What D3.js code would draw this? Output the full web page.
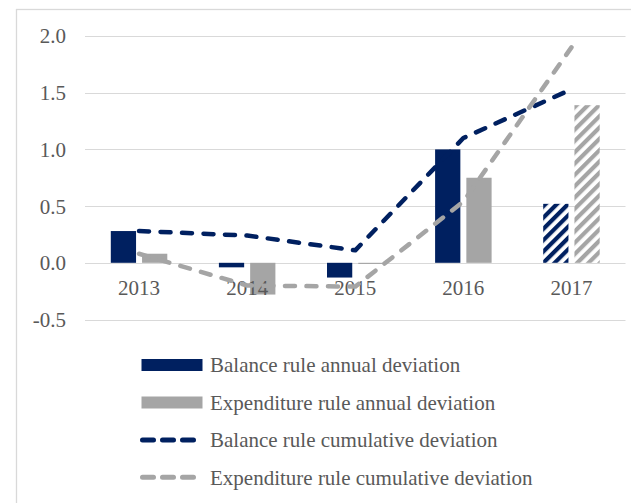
<!DOCTYPE html>
<html>
<head>
<meta charset="utf-8">
<script src="https://cdn.jsdelivr.net/npm/d3@7"></script>
<style>
  html, body { margin: 0; padding: 0; background: #ffffff; }
  svg { display: block; }
  text { font-family: "Liberation Serif", "Times New Roman", serif; }
</style>
</head>
<body>
<svg id="chart" width="631" height="503"></svg>
<script>
// Fiscal rule deviations, % of GDP
const years = ["2013", "2014", "2015", "2016", "2017"];
const projectedYears = ["2017"];
const balanceAnnual = [0.28, -0.04, -0.13, 1.00, 0.52];
const expenditureAnnual = [0.08, -0.28, -0.01, 0.75, 1.39];
const balanceCumulative = [0.28, 0.24, 0.11, 1.10, 1.53];
const expenditureCumulative = [0.08, -0.20, -0.21, 0.54, 1.90];
const yTicks = [-0.5, 0, 0.5, 1.0, 1.5, 2.0];

const seriesNames = [
  "Balance rule annual deviation",
  "Expenditure rule annual deviation",
  "Balance rule cumulative deviation",
  "Expenditure rule cumulative deviation"
];

const NAVY = "#002060";
const GREY = "#a5a5a5";
const GRID = "#d9d9d9";
const TEXT = "#595959";

const svg = d3.select("#chart");

// outer chart frame
svg.append("rect")
  .attr("x", 16.5).attr("y", 9.5)
  .attr("width", 640).attr("height", 520)
  .attr("fill", "#ffffff")
  .attr("stroke", GRID).attr("stroke-width", 1.3);

// hatch patterns for projected bars
const defs = svg.append("defs");
function hatch(id, color) {
  const p = defs.append("pattern")
    .attr("id", id)
    .attr("patternUnits", "userSpaceOnUse")
    .attr("width", 8).attr("height", 8)
    .attr("patternTransform", "rotate(45)");
  p.append("rect").attr("width", 8).attr("height", 8).attr("fill", "#ffffff");
  p.append("rect").attr("x", 0).attr("y", 0).attr("width", 4.2).attr("height", 8).attr("fill", color);
}
hatch("hatch-bal", NAVY);
hatch("hatch-exp", GREY);

const x = d3.scaleBand().domain(years).range([85, 625.5]).paddingInner(0).paddingOuter(0);
const x1 = d3.scaleBand().domain(["bal", "exp"]).range([-28.25, 28.25]).paddingInner(0.192).paddingOuter(0);
const y = d3.scaleLinear().domain([-0.5, 2.0]).range([319.5, 36]);

// gridlines
svg.append("g").selectAll("line").data(yTicks).join("line")
  .attr("x1", 85).attr("x2", 625.5)
  .attr("y1", d => Math.round(y(d)) + 0.5).attr("y2", d => Math.round(y(d)) + 0.5)
  .attr("stroke", GRID).attr("stroke-width", 1);

// y axis labels
const yAxis = d3.axisLeft(y).tickValues(yTicks).tickFormat(d => d.toFixed(1)).tickSize(0).tickPadding(0);
const gy = svg.append("g").attr("transform", "translate(66,0)").call(yAxis);
gy.select(".domain").remove();
gy.selectAll("text")
  .attr("fill", TEXT).attr("font-size", 21)
  .attr("font-family", "Liberation Serif, Times New Roman, serif")
  .attr("dy", "0.33em");

// bars
const barData = years.flatMap((yr, i) => [
  { year: yr, key: "bal", value: balanceAnnual[i] },
  { year: yr, key: "exp", value: expenditureAnnual[i] }
]);
svg.append("g").selectAll("rect").data(barData).join("rect")
  .attr("x", d => x(d.year) + x.bandwidth() / 2 + x1(d.key))
  .attr("width", x1.bandwidth())
  .attr("y", d => y(Math.max(0, d.value)))
  .attr("height", d => Math.abs(y(d.value) - y(0)))
  .attr("fill", d => {
    const projected = projectedYears.includes(d.year);
    if (d.key === "bal") return projected ? "url(#hatch-bal)" : NAVY;
    return projected ? "url(#hatch-exp)" : GREY;
  });

// category labels
const xAxis = d3.axisBottom(x).tickSize(0).tickPadding(0);
const gx = svg.append("g").attr("transform", `translate(0,${y(0)})`).call(xAxis);
gx.select(".domain").remove();
gx.selectAll("text")
  .attr("fill", TEXT).attr("font-size", 21)
  .attr("font-family", "Liberation Serif, Times New Roman, serif")
  .attr("dy", null).attr("y", 32);

// cumulative lines
const line = d3.line()
  .x((d, i) => x(years[i]) + x.bandwidth() / 2)
  .y(d => y(d));
[[balanceCumulative, NAVY], [expenditureCumulative, GREY]].forEach(([vals, color]) => {
  svg.append("path")
    .datum(vals)
    .attr("d", line)
    .attr("fill", "none")
    .attr("stroke", color)
    .attr("stroke-width", 4.5)
    .attr("stroke-linecap", "round")
    .attr("stroke-linejoin", "round")
    .attr("stroke-dasharray", "10,11.5");
});

// legend
const legendRows = [365, 402.5, 440, 477.3];
const lg = svg.append("g");
seriesNames.forEach((name, i) => {
  const cy = legendRows[i];
  if (i < 2) {
    lg.append("rect")
      .attr("x", 141.5).attr("y", cy - 6)
      .attr("width", 61).attr("height", 12)
      .attr("fill", i === 0 ? NAVY : GREY);
  } else {
    lg.append("line")
      .attr("x1", 142.5).attr("x2", 193.5)
      .attr("y1", cy).attr("y2", cy)
      .attr("stroke", i === 2 ? NAVY : GREY)
      .attr("stroke-width", 5)
      .attr("stroke-linecap", "round")
      .attr("stroke-dasharray", "11,9");
  }
  lg.append("text")
    .attr("x", 210).attr("y", cy + 7.3)
    .attr("fill", TEXT).attr("font-size", 21)
    .text(name);
});
</script>
</body>
</html>
